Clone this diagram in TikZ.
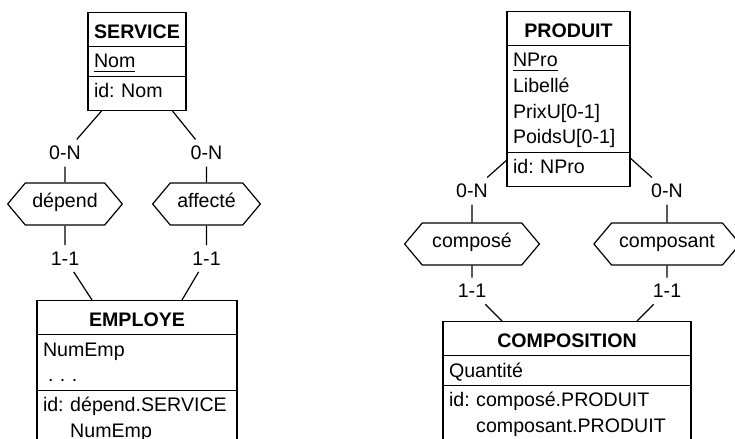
\documentclass[tikz,border=0pt]{standalone}
\usepackage{fontspec}
\setmainfont{Liberation Sans}
\usetikzlibrary{shapes.multipart,shapes.symbols}

\newcommand{\titlestrut}{\rule[-3pt]{0pt}{14.5pt}}
\newcommand{\linestrut}{\rule[-3pt]{0pt}{12.3pt}}
\newcommand{\laststrut}{\rule[-5pt]{0pt}{5pt}}
\newcommand{\relstrut}{\rule[-4.2pt]{0pt}{11.8pt}}
\newcommand{\idpad}{\hphantom{id:~}}
\newcommand{\entitle}[1]{\hbox to\hsize{\hss\titlestrut\textbf{#1}\hss}}
\frenchspacing

\begin{document}
\frenchspacing
\begin{tikzpicture}[x=0.5pt, y=-0.5pt, line width=0.6pt,
    every node/.style={font=\fontsize{9.8}{12.8}\selectfont},
    entity/.style={draw, rectangle split, rectangle split parts=3, anchor=north,
      align=left, inner xsep=3pt, inner ysep=1pt},
    rel/.style={draw, signal, signal to=west and east, signal pointer angle=100,
      inner xsep=3.5pt, inner ysep=4.6pt},
    card/.style={inner sep=3pt}]
    % Frame
    \useasboundingbox (0,0) rectangle (735,439);
    \clip (0,0) rectangle (735,439);

    % SERVICE / EMPLOYE
    \node[entity, text width=43pt] (srv) at (137,12) {\entitle{SERVICE}
      \nodepart{two}\linestrut\underline{Nom}
      \nodepart{three}\linestrut id: Nom\laststrut};
    \node[entity, text width=94pt] (emp) at (137,300) {\entitle{EMPLOYE}
      \nodepart{two}\linestrut NumEmp\\\linestrut\hspace{2.5pt}. . .
      \nodepart{three}\linestrut id: dépend.SERVICE\\\linestrut\idpad NumEmp\laststrut};

    \node[rel] (dep) at (65,204) {\relstrut dépend};
    \node[rel] (aff) at (206.5,204) {\relstrut affecté};

    \node[card] (c1) at (65,153) {0-N};
    \node[card] (c2) at (206.5,153) {0-N};
    \node[card] (c3) at (65,258.5) {1-1};
    \node[card] (c4) at (206.5,258.5) {1-1};

    \draw ([xshift=-17.75pt]srv.south) -- (c1) -- (dep) -- (c3) -- ([xshift=-22.5pt]emp.north);
    \draw ([xshift=17.75pt]srv.south) -- (c2) -- (aff) -- (c4) -- ([xshift=22.5pt]emp.north);

    % PRODUIT / COMPOSITION
    \node[entity, text width=55.5pt] (prd) at (568.5,11) {\entitle{PRODUIT}
      \nodepart{two}\linestrut\underline{NPro}\\\linestrut Libellé\\\linestrut PrixU[0-1]\\\linestrut PoidsU[0-1]
      \nodepart{three}\linestrut id: NPro\laststrut};
    \node[entity, text width=118pt] (cps) at (567,321) {\entitle{COMPOSITION}
      \nodepart{two}\linestrut Quantité
      \nodepart{three}\linestrut id: composé.PRODUIT\\\linestrut\idpad composant.PRODUIT\laststrut};

    \node[rel, inner xsep=5pt] (cpe) at (472,244) {\relstrut composé};
    \node[rel, inner xsep=3.75pt] (cpa) at (667,244) {\relstrut composant};

    \node[card] (c5) at (472,191) {0-N};
    \node[card] (c6) at (667,191) {0-N};
    \node[card] (c7) at (472,291) {1-1};
    \node[card] (c8) at (667,291) {1-1};

    \draw ([yshift=-4pt]prd.two split west) -- (c5) -- (cpe) -- (c7) -- ([xshift=-32.5pt]cps.north);
    \draw ([yshift=-3pt]prd.two split east) -- (c6) -- (cpa) -- (c8) -- ([xshift=35pt]cps.north);
\end{tikzpicture}
\end{document}
